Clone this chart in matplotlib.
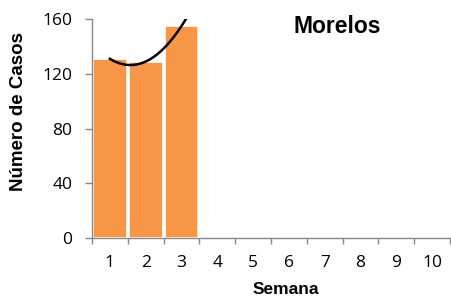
import numpy as np
import matplotlib.pyplot as plt
from matplotlib.ticker import FixedLocator

semanas = [1, 2, 3, 4, 5, 6, 7, 8, 9, 10]
casos_semana = [1, 2, 3]
casos = [131, 129, 155]
titulo = "Morelos"

plt.rcParams['font.family'] = ['Open Sans', 'DejaVu Sans']

fig = plt.figure(figsize=(4.51, 2.99), dpi=100)
ax = fig.add_axes([0.204, 0.204, 0.794, 0.732])

ax.bar(casos_semana, casos, width=0.94, color='#F79646', edgecolor='white', linewidth=1.2, zorder=2)

# polynomial trendline (order 2), like the spreadsheet one
coef = np.polyfit(casos_semana, casos, 2)
xs = np.linspace(1, 3.5, 200)
ax.plot(xs, np.polyval(coef, xs), color='black', lw=1.8, zorder=3)

ax.set_xlim(0.5, 10.5)
ax.set_ylim(0, 160)
ax.set_yticks([0, 40, 80, 120, 160])
ax.set_xticks(semanas)
ax.xaxis.set_minor_locator(FixedLocator(np.arange(0.5, 11, 1)))
ax.tick_params(axis='x', which='major', length=0, pad=12, labelsize=12.5)
ax.tick_params(axis='x', which='minor', length=4, color='#888888', width=1)
ax.tick_params(axis='y', length=5, color='#888888', width=1, labelsize=12.5, pad=9)

for s in ['top', 'right']:
    ax.spines[s].set_visible(False)
for s in ['left', 'bottom']:
    ax.spines[s].set_color('#888888')
    ax.spines[s].set_linewidth(1)

fig.text(0.634, 0.006, 'Semana', ha='center', va='bottom',
         family='Liberation Sans', fontweight='bold', fontsize=12.5)
fig.text(0.042, 0.627, 'Número de Casos', ha='center', va='center', rotation=90,
         family='Liberation Sans', fontweight='bold', fontsize=13.5)
ax.text(0.685, 0.936, titulo, transform=ax.transAxes, ha='center', va='baseline',
        family='Liberation Sans', fontweight='bold', fontsize=16.5)

fig.savefig('out.png', dpi=100)
